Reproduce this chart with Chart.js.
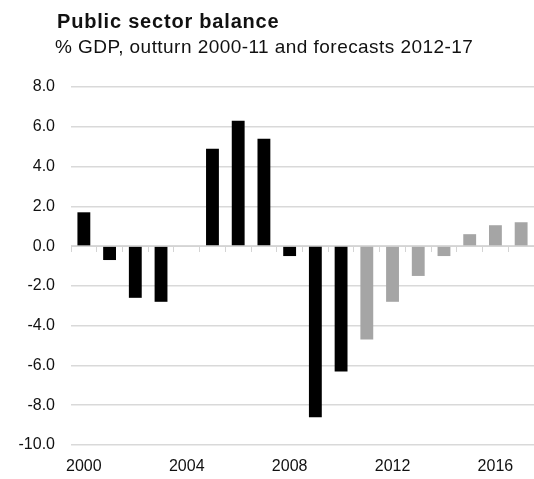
<!DOCTYPE html>
<html>
<head>
<meta charset="utf-8">
<script src="https://cdn.jsdelivr.net/npm/chart.js@4"></script>
<style>
  body { margin: 0; background: #fff; }
  #wrap { position: relative; width: 534px; height: 479px; }
  #title { position: absolute; left: 57px; top: 10px; font: bold 20px "Liberation Sans", Arial, sans-serif; letter-spacing: 0.8px; color: #111; white-space: nowrap; }
  #subtitle { position: absolute; left: 55px; top: 36px; font: 19px "Liberation Sans", Arial, sans-serif; letter-spacing: 0.45px; color: #111; white-space: nowrap; }
  canvas { position: absolute; left: 0; top: 0; }
</style>
</head>
<body>
<div id="wrap">
  <canvas id="chart" width="534" height="479"></canvas>
  <div id="title">Public sector balance</div>
  <div id="subtitle">% GDP, outturn 2000-11 and forecasts 2012-17</div>
</div>
<script>
const years = ["2000", "2001", "2002", "2003", "2004", "2005", "2006", "2007", "2008",
  "2009", "2010", "2011", "2012", "2013", "2014", "2015", "2016", "2017"];
const balance = [1.7, -0.7, -2.6, -2.8, 0, 4.9, 6.3, 5.4, -0.5,
  -8.6, -6.3, -4.7, -2.8, -1.5, -0.5, 0.6, 1.05, 1.2];
const greyFrom = 2011;
const yTicks = [8, 6, 4, 2, 0, -2, -4, -6, -8, -10];

const font = { family: "'Liberation Sans', Arial, sans-serif", size: 16 };

new Chart(document.getElementById("chart"), {
  type: "bar",
  data: {
    labels: years,
    datasets: [{
      data: balance,
      backgroundColor: years.map(y => +y >= greyFrom ? "#a5a5a5" : "#000000"),
      barPercentage: 0.5,
      categoryPercentage: 1.0,
    }],
  },
  options: {
    responsive: false,
    animation: false,
    layout: { padding: { top: 87, right: 0, left: 0, bottom: 0 } },
    plugins: { legend: { display: false }, tooltip: { enabled: false } },
    scales: {
      x: {
        grid: { display: false },
        border: { display: false },
        ticks: {
          autoSkip: false,
          maxRotation: 0,
          color: "#111",
          font: font,
          padding: 4,
          callback: (v, i) => (i % 4 === 0 ? years[i] : ""),
        },
        afterFit: s => { s.height = 34; },
      },
      // short tick marks hanging off the zero line
      x0: {
        type: "category",
        position: { y: 0 },
        offset: true,
        grid: { offset: true, drawOnChartArea: false, tickLength: 5, color: "#d4d4d4" },
        border: { display: true, color: "#d4d4d4" },
        ticks: { display: false },
      },
      y: {
        min: -10,
        max: 8,
        afterBuildTicks: s => { s.ticks = yTicks.map(v => ({ value: v })); },
        grid: { color: "#d9d9d9", lineWidth: 1.5, drawTicks: false },
        border: { display: false },
        ticks: {
          color: "#111",
          font: font,
          padding: 16,
          callback: v => v.toFixed(1),
        },
        afterFit: s => { s.width = 71; },
      },
    },
  },
});
</script>
</body>
</html>
